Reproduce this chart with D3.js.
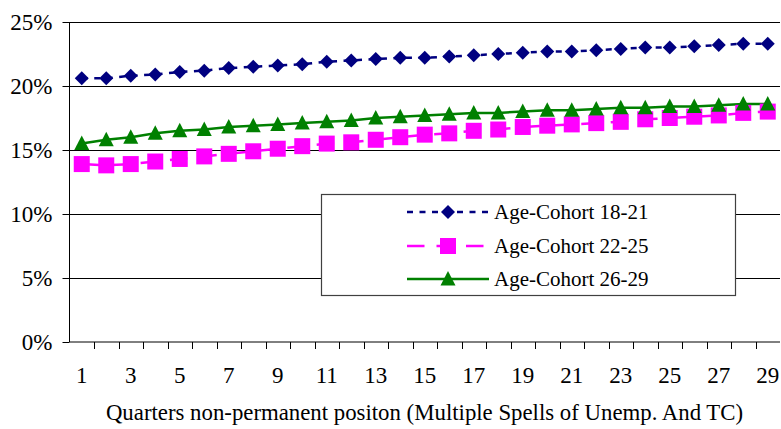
<!DOCTYPE html>
<html><head><meta charset="utf-8">
<script src="https://cdn.jsdelivr.net/npm/d3@7"></script>
</head>
<body style="margin:0"><svg id="c" width="781" height="429"></svg>
<script>
const categories = d3.range(1, 30);
const seriesNames = ["Age-Cohort 18-21", "Age-Cohort 22-25", "Age-Cohort 26-29"];
const cohort1821 = [20.6,20.6,20.8,20.9,21.1,21.2,21.4,21.5,21.6,21.7,21.9,22.0,22.1,22.2,22.2,22.3,22.4,22.5,22.6,22.7,22.7,22.8,22.9,23.0,23.0,23.1,23.2,23.3,23.3];
const cohort2225 = [13.9,13.8,13.9,14.1,14.3,14.5,14.7,14.9,15.1,15.3,15.5,15.6,15.8,16.0,16.2,16.3,16.5,16.6,16.8,16.9,17.0,17.1,17.2,17.4,17.5,17.6,17.7,17.9,18.0];
const cohort2629 = [15.5,15.8,16.0,16.3,16.5,16.6,16.8,16.9,17.0,17.1,17.2,17.3,17.5,17.6,17.7,17.8,17.9,17.9,18.0,18.1,18.1,18.2,18.3,18.3,18.4,18.4,18.5,18.6,18.6];
const yTicks = [0,5,10,15,20,25];
const xLabelTicks = categories.filter(c => c % 2 === 1);
const xTitle = "Quarters non-permanent positon (Multiple Spells of Unemp. And TC)";

const FONT = '"Liberation Serif"';
const svg = d3.select("#c");
const L = 69.5, R = 780, T = 22, B = 342;
const x = d3.scaleBand().domain(categories).range([L, R]).padding(0);
const y = d3.scaleLinear().domain([0, 25]).range([B, T]);
const cx = c => x(c) + x.bandwidth() / 2;

// gridlines
svg.append("g").selectAll("line").data(yTicks.filter(v => v > 0)).join("line")
  .attr("x1", L).attr("x2", R).attr("y1", d => Math.round(y(d)) + 0.5).attr("y2", d => Math.round(y(d)) + 0.5)
  .attr("stroke", "#000").attr("stroke-width", 1);

// y axis
const ya = svg.append("g").attr("transform", `translate(${L},0)`)
  .call(d3.axisLeft(y).tickValues(yTicks).tickSize(7).tickPadding(10).tickFormat(d => d + "%"));
ya.attr("font-family", null).attr("font-size", null);
ya.select(".domain").attr("stroke", "#000").attr("d", `M0,${T}V${B}`);
ya.selectAll(".tick line").attr("stroke", "#000");
ya.selectAll(".tick text").style("font-family", FONT).style("font-size", "23px").attr("fill", "#000").attr("dy", "0.33em");

// x axis
const xa = svg.append("g").attr("transform", `translate(0,${B})`)
  .call(d3.axisBottom(x).tickValues(xLabelTicks).tickSize(0));
xa.attr("font-family", null).attr("font-size", null);
xa.select(".domain").attr("stroke", "#000").attr("d", `M${L},0H${R}`);
xa.selectAll(".tick text").style("font-family", FONT).style("font-size", "23px").attr("fill", "#000")
  .attr("y", 41).attr("dy", null);
xa.append("g").selectAll("line").data(categories.slice(1)).join("line")
  .attr("x1", d => Math.round(x(d)) + 0.5).attr("x2", d => Math.round(x(d)) + 0.5)
  .attr("y1", 0).attr("y2", 7).attr("stroke", "#000");

svg.append("text").attr("x", (107 + 742) / 2).attr("y", 420).attr("text-anchor", "middle")
  .style("font-family", FONT).style("font-size", "22.8px").attr("fill", "#000").text(xTitle);

const series = [
  {name: seriesNames[0], values: cohort1821, color: "#000080", dash: "6,6.5", marker: "diamond"},
  {name: seriesNames[1], values: cohort2225, color: "#FF00FF", dash: "17.5,12", marker: "square"},
  {name: seriesNames[2], values: cohort2629, color: "#008000", dash: null, marker: "triangle"}
];

function marker(g, type, color) {
  if (type === "diamond") g.append("path").attr("d", "M0,-7L7,0L0,7L-7,0Z").attr("fill", color);
  else if (type === "square") g.append("rect").attr("x", -8).attr("y", -8).attr("width", 16).attr("height", 16).attr("fill", color);
  else g.append("path").attr("d", "M0,-8L7.5,6.5L-7.5,6.5Z").attr("fill", color);
}

const line = d3.line().x((d, i) => cx(categories[i])).y(d => y(d));
series.forEach(s => {
  svg.append("path").datum(s.values).attr("d", line).attr("fill", "none")
    .attr("stroke", s.color).attr("stroke-width", 2.5).attr("stroke-dasharray", s.dash);
});
series.forEach(s => {
  s.values.forEach((v, i) => {
    const g = svg.append("g").attr("transform", `translate(${cx(categories[i])},${y(v)})`);
    marker(g, s.marker, s.color);
  });
});

// legend
const lg = svg.append("g");
lg.append("rect").attr("x", 321.5).attr("y", 194.5).attr("width", 414).attr("height", 101)
  .attr("fill", "#fff").attr("stroke", "#404040").attr("stroke-width", 1.2);
const rowY = [212, 246, 279];
series.forEach((s, i) => {
  const ry = rowY[i];
  lg.append("line").attr("x1", 407).attr("x2", 489).attr("y1", ry).attr("y2", ry)
    .attr("stroke", s.color).attr("stroke-width", 2.5).attr("stroke-dasharray", s.dash);
  const g = lg.append("g").attr("transform", `translate(448,${ry})`);
  marker(g, s.marker, s.color);
  lg.append("text").attr("x", 494).attr("y", ry + 7).style("font-family", FONT).style("font-size", "21px")
    .attr("fill", "#000").text(s.name);
});
</script></body></html>
